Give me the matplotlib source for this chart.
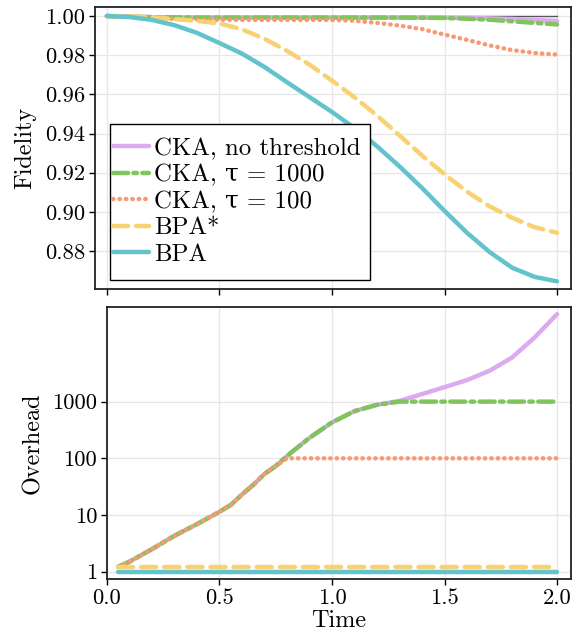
import matplotlib
matplotlib.use("Agg")
import matplotlib.pyplot as plt
from matplotlib.path import Path

# -------------------------------------------------
# Fidelity / overhead vs time
# -------------------------------------------------

plt.rcParams["font.family"] = ["cmr10", "DejaVu Serif"]
plt.rcParams["mathtext.fontset"] = "cm"
plt.rcParams["axes.unicode_minus"] = False

labels = ["CKA, no threshold", "CKA, τ = 1000", "CKA, τ = 100", "BPA*", "BPA"]
colors = ["#dcaaf0", "#80c45c", "#f79a72", "#f8d272", "#62c3cc"]

# top panel: fidelity
time_fid = [0.0, 0.1, 0.2, 0.3, 0.4, 0.5, 0.6, 0.7, 0.8, 0.9, 1.0,
            1.1, 1.2, 1.3, 1.4, 1.5, 1.6, 1.7, 1.8, 1.9, 2.0]
fid_cka = [1.0, 0.9997, 0.9994, 0.9993, 0.9992, 0.9992, 0.9992, 0.9992, 0.9992, 0.9992, 0.9992,
           0.9992, 0.9992, 0.9992, 0.9992, 0.9991, 0.9990, 0.9988, 0.9985, 0.9980, 0.9975]
fid_cka_1000 = [1.0, 0.9997, 0.9994, 0.9993, 0.9992, 0.9992, 0.9992, 0.9992, 0.9992, 0.9992, 0.9992,
                0.9992, 0.9992, 0.9992, 0.9991, 0.9990, 0.9986, 0.9981, 0.9973, 0.9965, 0.9957]
fid_cka_100 = [1.0, 0.9996, 0.9990, 0.9985, 0.9982, 0.9981, 0.9980, 0.9980, 0.9980, 0.9980, 0.9980,
               0.9976, 0.9965, 0.9951, 0.9933, 0.9905, 0.9878, 0.9850, 0.9826, 0.9811, 0.9803]
fid_bpa_star = [1.0, 0.9999, 0.9994, 0.9984, 0.9975, 0.9962, 0.9932, 0.9884, 0.9822, 0.9752, 0.9670,
                0.9585, 0.9492, 0.9390, 0.9288, 0.9192, 0.9103, 0.9028, 0.8970, 0.8922, 0.8893]
fid_bpa = [1.0, 0.9995, 0.9980, 0.9953, 0.9914, 0.9862, 0.9808, 0.9740, 0.9662, 0.9586, 0.9510,
           0.9428, 0.9335, 0.9232, 0.9122, 0.9005, 0.8893, 0.8795, 0.8715, 0.8668, 0.8645]
ref_time = [0.0, 2.0]
ref_fid = [1.0, 1.0]

# bottom panel: overhead
time_over = [0.05, 0.1, 0.2, 0.3, 0.4, 0.5, 0.55, 0.6, 0.65, 0.7, 0.75, 0.8, 0.9,
             1.0, 1.1, 1.2, 1.3, 1.4, 1.5, 1.6, 1.7, 1.8, 1.9, 2.0]
over_cka = [1.22, 1.5, 2.5, 4.3, 6.9, 11.4, 15, 23, 34, 53, 73, 110, 230,
            430, 680, 880, 1030, 1360, 1800, 2400, 3500, 6000, 13500, 35000]
over_cka_1000 = [1.22, 1.5, 2.5, 4.3, 6.9, 11.4, 15, 23, 34, 53, 73, 110, 230,
                 430, 680, 880, 1000, 1000, 1000, 1000, 1000, 1000, 1000, 1000]
over_cka_100 = [1.22, 1.5, 2.5, 4.3, 6.9, 11.4, 15, 23, 34, 53, 73, 100, 100,
                100, 100, 100, 100, 100, 100, 100, 100, 100, 100, 100]
over_bpa_star = [1.2] * len(time_over)
over_bpa = [1.0] * len(time_over)

styles = ["-", (0, (3.4, 1.2, 0.8, 1.2)), (0, (0.1, 1.35)), (0, (3.4, 1.8)), "-"]
lw = 3.2


def tall_box(x0, y0, width, height, mutation_size):
    # legend frame: tight on the left, a bit more on the right, extra room above and below
    pad = 0.45 * mutation_size
    right = 0.28 * mutation_size
    return Path([(x0, y0 - pad), (x0 + width + right, y0 - pad),
                 (x0 + width + right, y0 + height + pad),
                 (x0, y0 + height + pad), (x0, y0 - pad)], closed=True)


fig = plt.figure(figsize=(5.82, 6.37), dpi=100)
ax1 = fig.add_axes([0.1632, 0.5463, 0.8179, 0.4427])
ax2 = fig.add_axes([0.1838, 0.0911, 0.7973, 0.4270])

ax1.plot(ref_time, ref_fid, color="#555555", lw=1.0, zorder=1)
fid_series = [fid_cka, fid_cka_1000, fid_cka_100, fid_bpa_star, fid_bpa]
for values, c, ls, lab in zip(fid_series, colors, styles, labels):
    ax1.plot(time_fid, values, color=c, ls=ls, lw=lw, label=lab,
             dash_capstyle="round", solid_capstyle="round", zorder=2)

over_series = [over_cka, over_cka_1000, over_cka_100, over_bpa_star, over_bpa]
for values, c, ls in zip(over_series, colors, styles):
    ax2.plot(time_over, values, color=c, ls=ls, lw=lw,
             dash_capstyle="round", solid_capstyle="round", zorder=2)

ax1.set_xlim(-0.053, 2.062)
ax1.set_ylim(0.8606, 1.0046)
ax1.set_xticks([0.0, 0.5, 1.0, 1.5, 2.0])
ax1.set_xticklabels([])
ax1.set_yticks([0.88, 0.90, 0.92, 0.94, 0.96, 0.98, 1.00])
ax1.set_yticklabels(["0.88", "0.90", "0.92", "0.94", "0.96", "0.98", "1.00"])
ax1.set_ylabel("Fidelity", fontsize=17.5, labelpad=6)

ax2.set_yscale("log")
ax2.set_xlim(0.0, 2.062)
ax2.set_ylim(0.743, 46800)
ax2.set_xticks([0.0, 0.5, 1.0, 1.5, 2.0])
ax2.set_xticklabels(["0.0", "0.5", "1.0", "1.5", "2.0"])
ax2.set_yticks([1, 10, 100, 1000])
ax2.set_yticklabels(["1", "10", "100", "1000"])
ax2.minorticks_off()
ax2.set_xlabel("Time", fontsize=17.5, labelpad=1)
ax2.set_ylabel("Overhead", fontsize=17.5, labelpad=6)

for ax in (ax1, ax2):
    ax.grid(True, color="#e6e6e6", lw=0.9, zorder=0)
    ax.set_axisbelow(True)
    ax.tick_params(direction="out", length=4, width=1.0, labelsize=16.2, pad=3)
    for s in ax.spines.values():
        s.set_linewidth(1.3)
        s.set_color("#222222")

leg = ax1.legend(loc="lower left", bbox_to_anchor=(0.031, 0.072), fontsize=17.9,
                 handlelength=1.45, handletextpad=0.2, labelspacing=0.16,
                 borderpad=0.12, borderaxespad=0.0, fancybox=False, framealpha=1.0,
                 edgecolor="black")
leg.get_frame().set_boxstyle(tall_box)
leg.get_frame().set_linewidth(1.0)

fig.savefig("out.png", dpi=100)
